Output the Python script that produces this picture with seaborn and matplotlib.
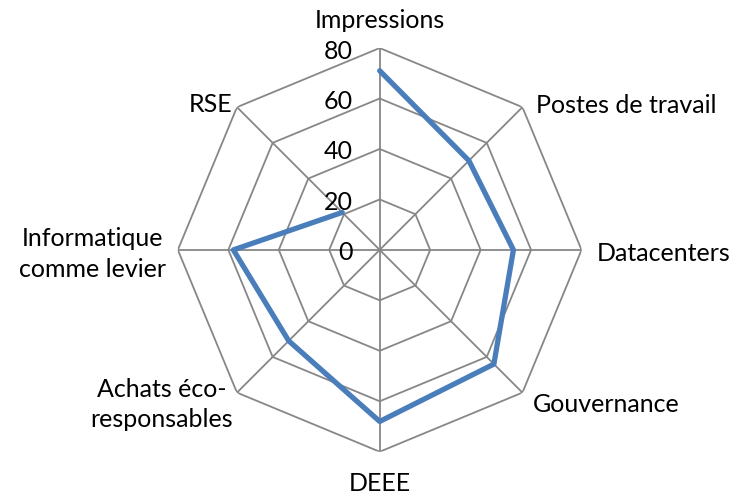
import numpy as np
import matplotlib
matplotlib.use("Agg")
import matplotlib.pyplot as plt
import matplotlib.transforms as mtransforms
import seaborn as sns

categories = ["Impressions", "Postes de travail", "Datacenters", "Gouvernance",
              "DEEE", "Achats éco-\nresponsables", "Informatique\ncomme levier", "RSE"]
scores = [71, 50, 53, 64, 68, 51, 58, 21]
tick_levels = [0, 20, 40, 60, 80]

sns.set_style("white")
plt.rcParams["font.family"] = ["Lato", "DejaVu Sans"]

n = len(categories)
angles = np.linspace(0, 2 * np.pi, n, endpoint=False)
angles_closed = np.append(angles, angles[0])
scores_closed = scores + scores[:1]

fig = plt.figure(figsize=(7.38, 4.96), dpi=100)
ax = fig.add_axes([0.241, 0.0887, 0.547, 0.815], projection="polar")
ax.set_theta_offset(np.pi / 2)
ax.set_theta_direction(-1)
ax.set_ylim(0, 80)
ax.grid(False)
ax.spines["polar"].set_visible(False)
ax.set_xticks([])
ax.set_yticks([])

grid_color = "#878787"
# polygon rings
for lvl in tick_levels[1:]:
    ax.plot(angles_closed, [lvl] * (n + 1), color=grid_color, lw=1.3, zorder=1)
# spokes
for a in angles:
    ax.plot([a, a], [0, 80], color=grid_color, lw=1.3, zorder=1)

# data series
sns.lineplot(x=angles_closed, y=scores_closed, sort=False, ax=ax,
             color="#4a7ebb", lw=3.8, zorder=3)
ax.set_xlabel("")
ax.set_ylabel("")

# radial tick labels, left of the vertical axis
offset = mtransforms.offset_copy(ax.transData, fig=fig, x=-27, y=-3, units="dots")
for lvl in tick_levels:
    ax.text(0, lvl, str(lvl), transform=offset, ha="right", va="center",
            fontsize=18, color="#000000", zorder=4)

# category labels: (dx, dy) in pixels from the outer vertex
placement = [
    (0, 28, "center"),
    (14, 2, "left"),
    (15, -4, "left"),
    (10, -12, "left"),
    (0, -32, "center"),
    (-4, -12, "right"),
    (-12, -4, "right"),
    (-5, 3, "right"),
]
for a, label, (dx, dy, ha) in zip(angles, categories, placement):
    tr = mtransforms.offset_copy(ax.transData, fig=fig, x=dx, y=dy, units="dots")
    ax.text(a, 80, label, transform=tr, ha=ha, va="center", fontsize=18,
            color="#000000", multialignment="center", linespacing=1.4,
            clip_on=False)

plt.savefig("out.png", dpi=100)
